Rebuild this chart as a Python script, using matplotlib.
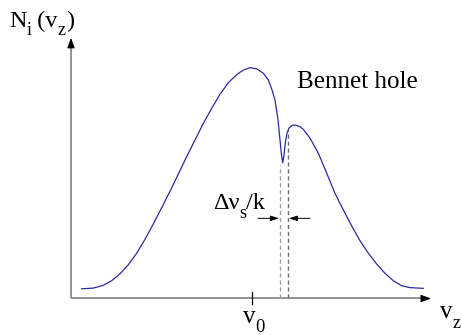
import matplotlib
matplotlib.use("Agg")
import matplotlib.pyplot as plt

plt.rcParams['font.family'] = ['Liberation Serif', 'DejaVu Serif']

# velocity distribution with a Bennet hole burnt in (v_z in arbitrary units, N normalised to peak)
v_z = [-4.258, -3.967, -3.717, -3.508, -3.300, -3.092, -2.883, -2.675, -2.467, -2.258,
       -2.050, -1.842, -1.633, -1.425, -1.217, -1.008, -0.800, -0.592, -0.383, -0.217,
       -0.050, 0.117, 0.283, 0.408, 0.500, 0.575, 0.650, 0.700, 0.738, 0.768,
       0.800, 0.833, 0.875, 0.925, 1.000, 1.075, 1.200, 1.283, 1.450, 1.658,
       1.868, 2.075, 2.283, 2.493, 2.700, 2.908, 3.118, 3.325, 3.533, 3.743,
       3.950, 4.283]
N_i = [0.042, 0.045, 0.057, 0.077, 0.107, 0.146, 0.196, 0.256, 0.323, 0.393,
       0.464, 0.539, 0.614, 0.686, 0.758, 0.823, 0.884, 0.934, 0.969, 0.989,
       0.999, 0.994, 0.975, 0.946, 0.903, 0.859, 0.773, 0.686, 0.621, 0.587,
       0.621, 0.673, 0.716, 0.738, 0.749, 0.751, 0.744, 0.732, 0.694, 0.629,
       0.542, 0.455, 0.383, 0.314, 0.250, 0.196, 0.149, 0.109, 0.077, 0.055,
       0.047, 0.044]

v0 = 0.0
hole_left, hole_right = 0.688, 0.908
hole_top_left, hole_top_right = 0.578, 0.73

fig = plt.figure(figsize=(4.62, 3.35), dpi=100)
ax = fig.add_axes([0, 0, 1, 1])
ax.set_xlim(-6.3, 5.25)
ax.set_ylim(-0.158, 1.292)
ax.axis('off')
renderer = fig.canvas.get_renderer()


def rich_text(x, y, pieces, size, sub_size, drop):
    # lay out main text and subscripts one after another along the baseline
    dx = 0.0
    for s, is_sub in pieces:
        t = ax.annotate(s, xy=(x, y), xytext=(dx, -drop if is_sub else 0),
                        textcoords='offset points', fontsize=sub_size if is_sub else size,
                        ha='left', va='baseline')
        dx += t.get_window_extent(renderer).width * 72 / fig.dpi


# axes with small black arrow heads
x0 = -4.525
y_tip, x_tip = 1.128, 4.475
ax.plot([x0, x0], [0, y_tip - 0.02], color='#8a8a8a', lw=1.3, solid_capstyle='butt')
ax.plot([x0, x_tip - 0.1], [0, 0], color='#8a8a8a', lw=1.3, solid_capstyle='butt')
head = dict(arrowstyle='-|>,head_length=0.6,head_width=0.22', color='black', lw=0.8,
            shrinkA=0, shrinkB=0)
ax.annotate('', xy=(x0, y_tip), xytext=(x0, y_tip - 0.04), arrowprops=head)
ax.annotate('', xy=(x_tip, 0), xytext=(x_tip - 0.2, 0), arrowprops=head)

# tick at v0
ax.plot([v0, v0], [0.027, -0.025], color='black', lw=0.9)

# dashed markers of the hole width
ax.plot([hole_left, hole_left], [0, hole_top_left], color='#a0a0a0', lw=1.0, dashes=(3, 2))
ax.plot([hole_right, hole_right], [0, hole_top_right], color='#707070', lw=1.0, dashes=(3, 2))

# width arrows
ya = 0.347
ar = dict(arrowstyle='-|>,head_length=0.5,head_width=0.16', color='black', lw=0.7,
          shrinkA=0, shrinkB=0)
ax.annotate('', xy=(hole_left - 0.015, ya), xytext=(0.15, ya), arrowprops=ar)
ax.annotate('', xy=(hole_right + 0.015, ya), xytext=(1.45, ya), arrowprops=ar)

ax.plot(v_z, N_i, color='#2b2ba0', lw=0.9)

rich_text(-6.075, 1.175, [('N', False), ('i', True), (' (v', False), ('z', True), (')', False)],
          17.5, 13, 5.8)
ax.text(1.118, 0.911, 'Bennet hole', fontsize=18, ha='left', va='baseline')
rich_text(-0.983, 0.387, [('\u0394\u03bd', False), ('s', True), ('/k', False)], 17.5, 13, 6.5)
rich_text(-0.233, -0.106, [('v', False), ('0', True)], 18, 13.5, 6.5)
rich_text(4.69, -0.084, [('v', False), ('z', True)], 18, 13, 7)

fig.savefig('out.png', dpi=100)
